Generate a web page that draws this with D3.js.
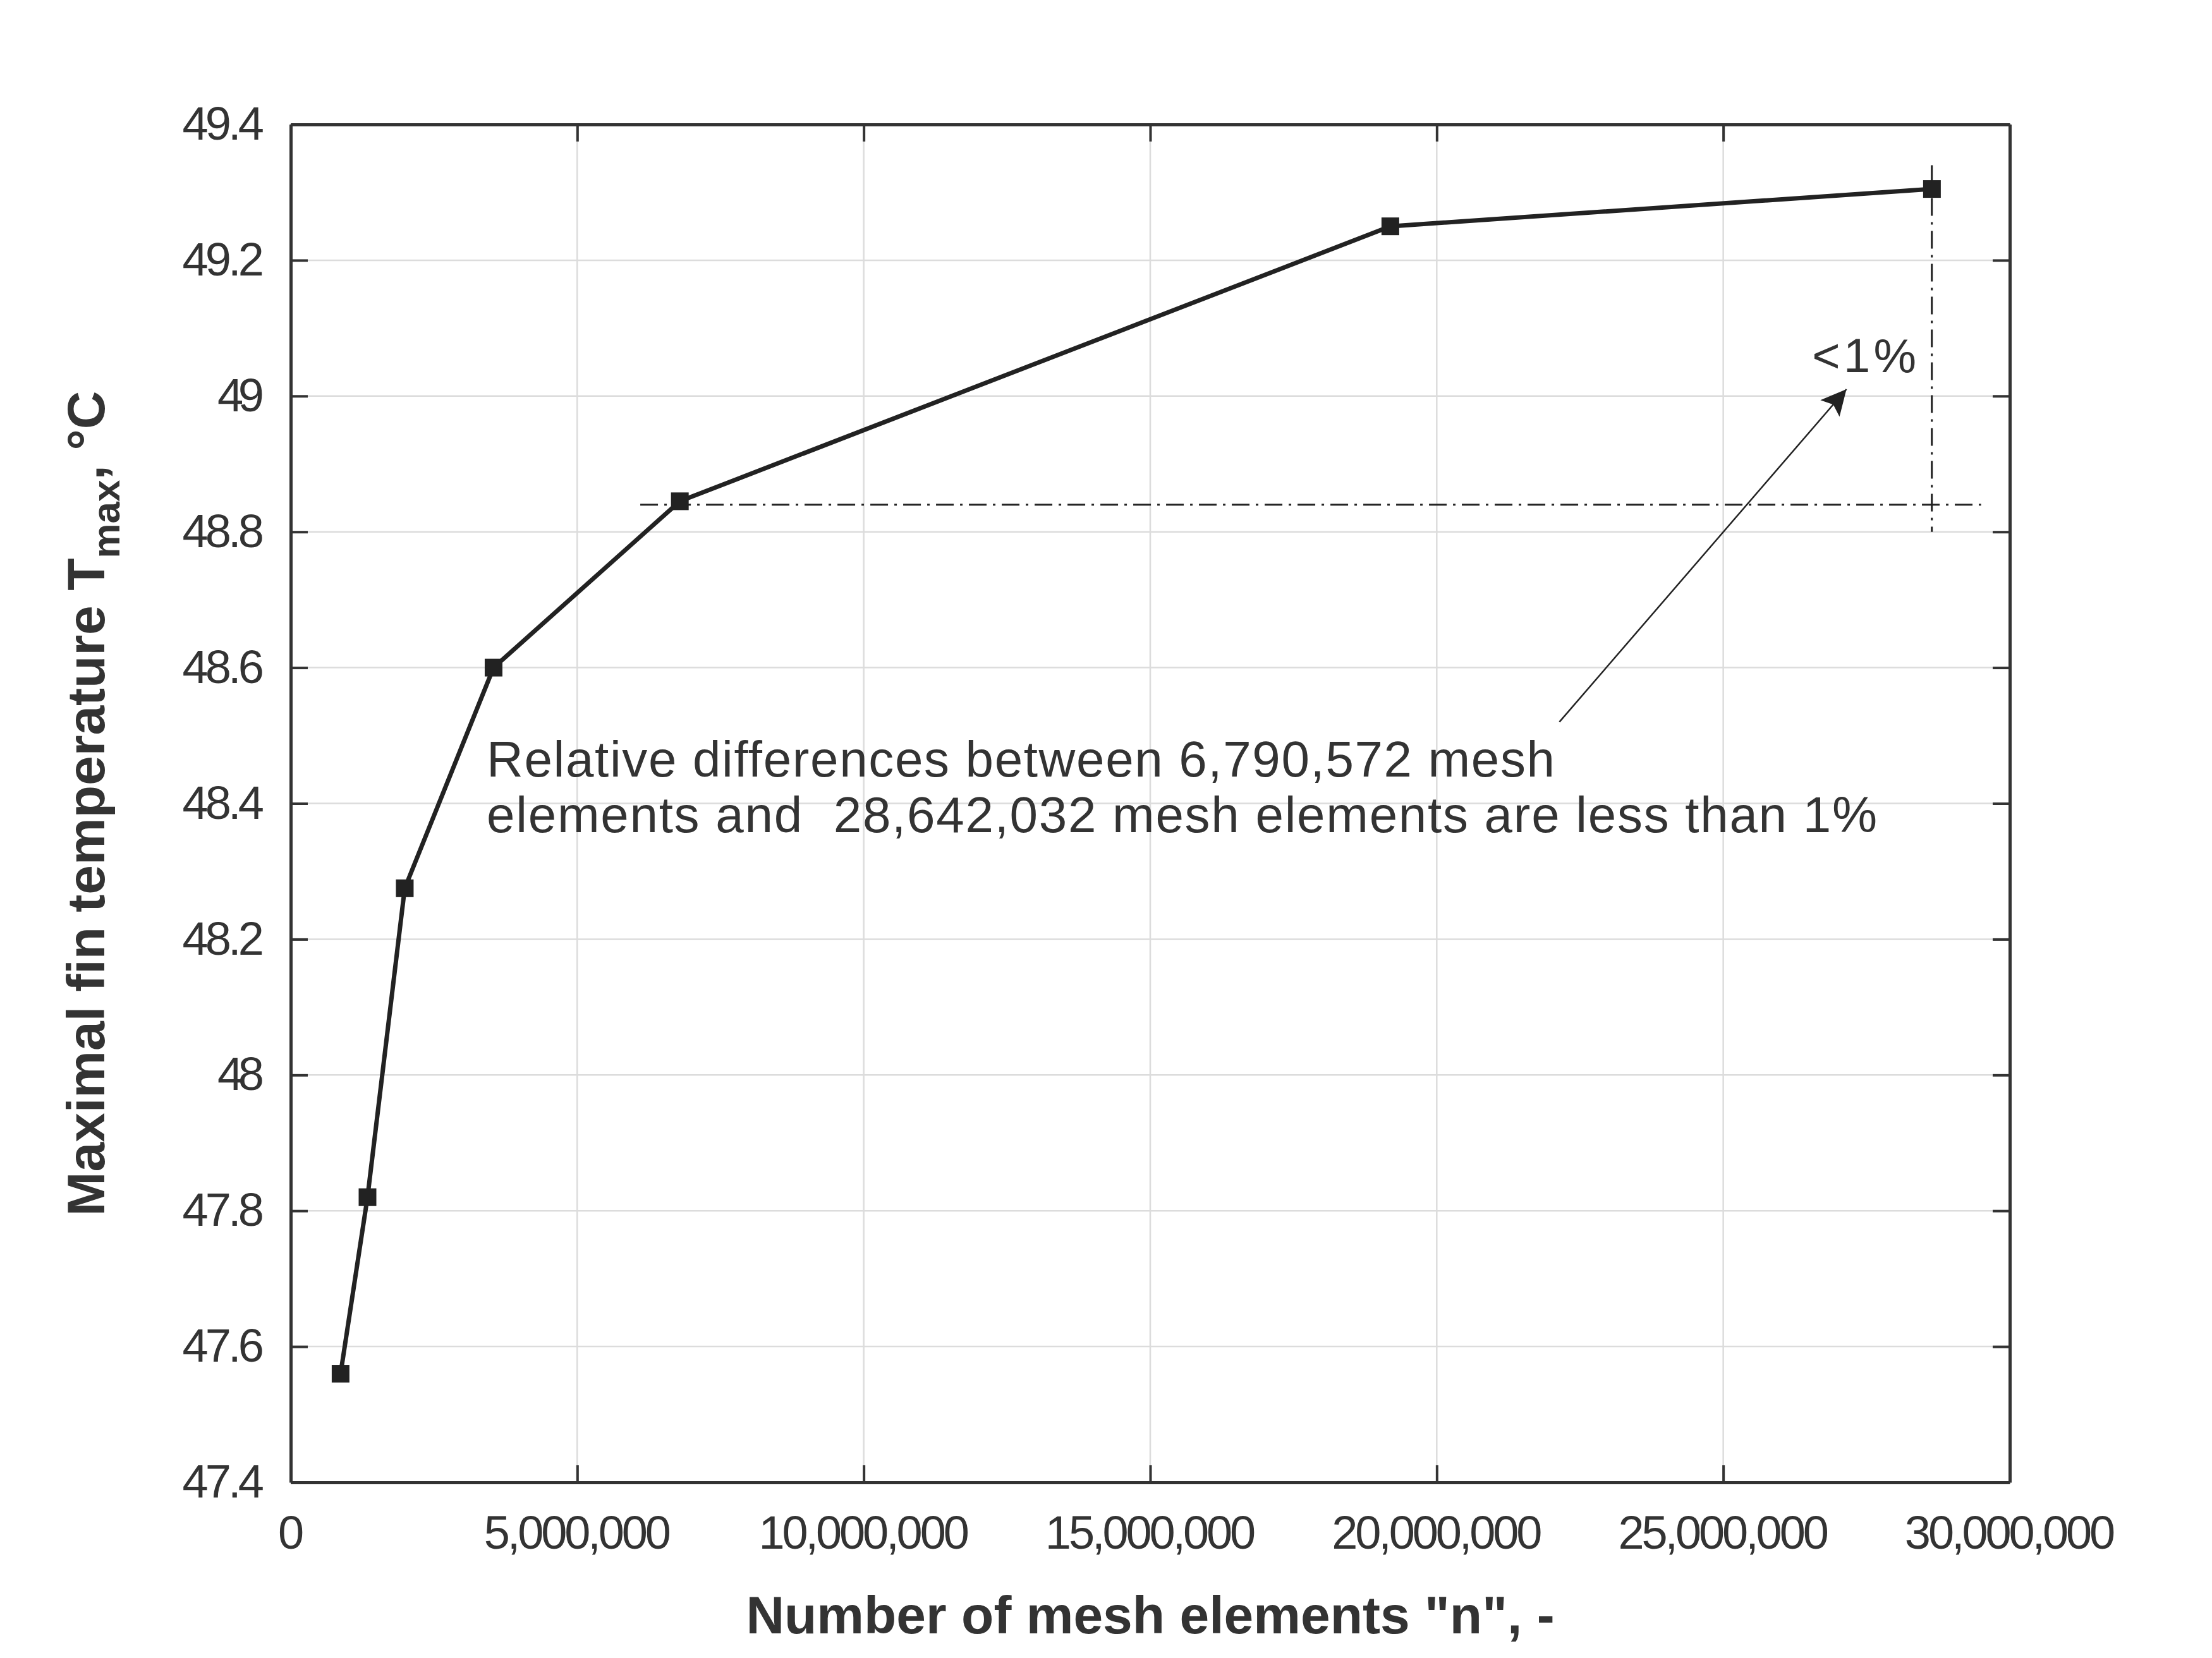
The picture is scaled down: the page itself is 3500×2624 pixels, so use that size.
<!DOCTYPE html>
<html><head><meta charset="utf-8">
<script src="https://cdn.jsdelivr.net/npm/d3@7"></script>
<style>body{margin:0;background:#fff}</style>
</head><body><div id="chart"></div>
<script>
// mesh sizes and max fin temperatures
const meshN = [870000, 1340000, 1990000, 3540000, 6790572, 19190000, 28642032];
const tMax = [47.56, 47.82, 48.275, 48.60, 48.845, 49.25, 49.305];
const xTicks = [0, 5e6, 10e6, 15e6, 20e6, 25e6, 30e6];
const yTicks = [47.4, 47.6, 47.8, 48, 48.2, 48.4, 48.6, 48.8, 49, 49.2, 49.4];

const W = 3500, H = 2624;
const m = {left: 460, right: 320, top: 197, bottom: 278};
const iw = W - m.left - m.right, ih = H - m.top - m.bottom;
const font = "'Liberation Sans',Arial,sans-serif";
const ink = "#333";

const svg = d3.select("#chart").append("svg").attr("width", W).attr("height", H);
const g = svg.append("g").attr("transform", `translate(${m.left},${m.top})`);

const x = d3.scaleLinear().domain([0, 30e6]).range([0, iw]);
const y = d3.scaleLinear().domain([47.4, 49.4]).range([ih, 0]);

// grid
g.selectAll(".gx").data(xTicks).enter().append("line")
    .attr("x1", d => x(d)).attr("x2", d => x(d)).attr("y1", 0).attr("y2", ih)
    .attr("stroke", "#dcdcdc").attr("stroke-width", 2.5);
g.selectAll(".gy").data(yTicks).enter().append("line")
    .attr("y1", d => y(d)).attr("y2", d => y(d)).attr("x1", 0).attr("x2", iw)
    .attr("stroke", "#dcdcdc").attr("stroke-width", 2.5);

// axes, ticks inward
const fmt = d => d === 0 ? "0" : d3.format(",")(d);
const xa = g.append("g").attr("transform", `translate(0,${ih})`)
    .call(d3.axisBottom(x).tickValues(xTicks).tickFormat(fmt).tickSizeInner(-27).tickSizeOuter(0).tickPadding(52));
const xa2 = g.append("g").call(d3.axisTop(x).tickValues(xTicks).tickFormat("").tickSizeInner(-27).tickSizeOuter(0));
const ya = g.append("g")
    .call(d3.axisLeft(y).tickValues(yTicks).tickFormat(d => d3.format("")(d)).tickSizeInner(-27).tickSizeOuter(0).tickPadding(42));
const ya2 = g.append("g").attr("transform", `translate(${iw},0)`)
    .call(d3.axisRight(y).tickValues(yTicks).tickFormat("").tickSizeInner(-27).tickSizeOuter(0));
[xa, xa2, ya, ya2].forEach(a => {
    a.select(".domain").attr("stroke", ink).attr("stroke-width", 5);
    a.selectAll(".tick line").attr("stroke", ink).attr("stroke-width", 4);
    a.selectAll("text").attr("fill", ink).style("font-family", font).style("font-size", "74px")
        .attr("textLength", function() { return this.getComputedTextLength() * 0.9; });
});

// reference lines (dash-dot)
g.append("line").attr("x1", x(6.1e6)).attr("x2", x(29.5e6)).attr("y1", y(48.84)).attr("y2", y(48.84))
    .attr("stroke", "#222").attr("stroke-width", 3).attr("stroke-dasharray", "28,10,4,10");
g.append("line").attr("x1", x(28.64e6)).attr("x2", x(28.64e6)).attr("y1", y(49.34)).attr("y2", y(48.8))
    .attr("stroke", "#222").attr("stroke-width", 3).attr("stroke-dasharray", "28,10,4,10");

// data line + square markers
const pts = meshN.map((n, i) => [n, tMax[i]]);
g.append("path").datum(pts)
    .attr("d", d3.line().x(d => x(d[0])).y(d => y(d[1])))
    .attr("fill", "none").attr("stroke", "#222").attr("stroke-width", 7);
g.selectAll(".pt").data(pts).enter().append("rect")
    .attr("x", d => x(d[0]) - 14).attr("y", d => y(d[1]) - 14)
    .attr("width", 28).attr("height", 28).attr("fill", "#222");

// arrow
svg.append("defs").append("marker").attr("id", "ah").attr("viewBox", "0 0 10 10")
    .attr("refX", 10).attr("refY", 5).attr("markerWidth", 80).attr("markerHeight", 40)
    .attr("markerUnits", "userSpaceOnUse").attr("orient", "auto")
    .append("path").attr("d", "M0,0 L10,5 L0,10 L2,5 Z").attr("fill", "#222");
g.append("line").attr("x1", x(22.14e6)).attr("y1", y(48.52)).attr("x2", x(27.15e6)).attr("y2", y(49.01))
    .attr("stroke", "#222").attr("stroke-width", 2.5).attr("marker-end", "url(#ah)");

// annotation text
g.append("text").attr("x", x(26.55e6)).attr("y", y(49.035)).text("<1%")
    .attr("fill", ink).style("font-family", font).style("font-size", "76px").attr("textLength", 165);
const note = g.append("text").attr("fill", ink).style("font-family", font).style("font-size", "80px");
note.append("tspan").attr("x", x(3.42e6)).attr("y", y(48.44)).attr("textLength", 1690)
    .text("Relative differences between 6,790,572 mesh");
note.append("tspan").attr("x", x(3.42e6)).attr("y", y(48.358)).attr("textLength", 2200).attr("xml:space", "preserve")
    .text("elements and  28,642,032 mesh elements are less than 1%");

// axis titles
svg.append("text").attr("x", m.left + iw / 2).attr("y", 2585).attr("text-anchor", "middle")
    .attr("fill", ink).style("font-family", font).style("font-weight", "bold").style("font-size", "84px")
    .text('Number of mesh elements "n", -');
const yt = svg.append("text").attr("transform", `translate(165,${m.top + ih / 2}) rotate(-90)`)
    .attr("text-anchor", "middle").attr("fill", ink).style("font-family", font)
    .style("font-weight", "bold").style("font-size", "84px");
yt.append("tspan").text("Maximal fin temperature T");
yt.append("tspan").attr("dy", 24).style("font-size", "62px").text("max");
yt.append("tspan").attr("dy", -24).text(", °C");
</script>
</body></html>
